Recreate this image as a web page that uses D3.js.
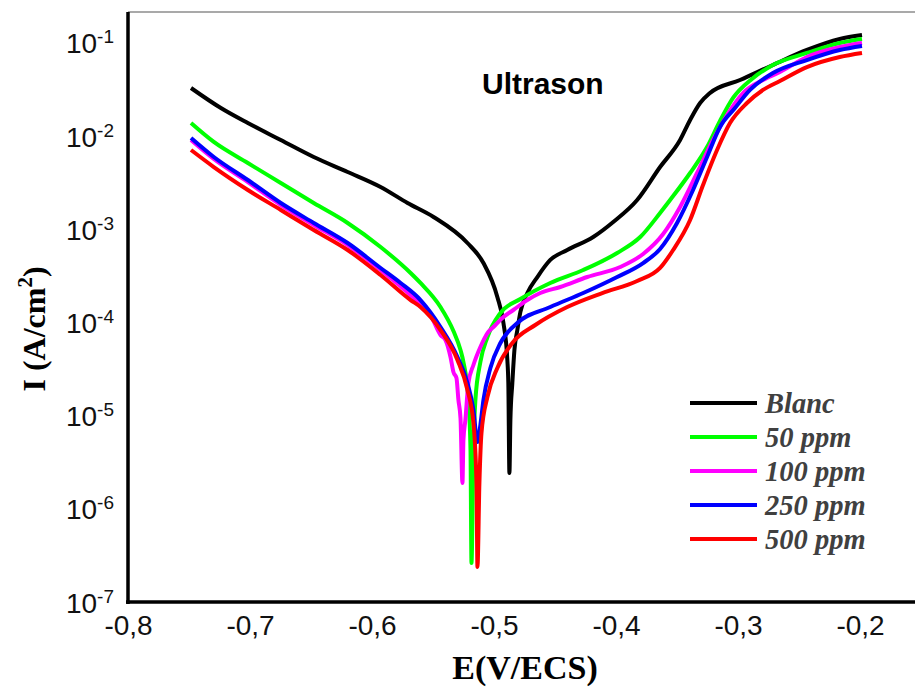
<!DOCTYPE html>
<html>
<head>
<meta charset="utf-8">
<script src="https://cdn.jsdelivr.net/npm/d3@7/dist/d3.min.js"></script>
<style>
  html, body { margin: 0; padding: 0; background: #fff; }
  svg { display: block; }
</style>
</head>
<body>
<div id="chart"></div>
<script>
// ---------------- DATA ----------------
const seriesNames = ["Blanc", "50 ppm", "100 ppm", "250 ppm", "500 ppm"];
const seriesColors = ["#000000", "#00ff00", "#ff00ff", "#0000ff", "#ff0000"];

// Potential E (V/ECS) and log10 of current density I (A/cm²)
const blancE = [-0.75, -0.7255, -0.7034, -0.6764, -0.6494, -0.6216, -0.5946, -0.5725, -0.5512, -0.5234, -0.5103, -0.4989, -0.4939, -0.4907, -0.4899, -0.4890, -0.4882, -0.4866, -0.4849, -0.4825, -0.48, -0.4743, -0.4661, -0.4555, -0.4416, -0.4203, -0.4039, -0.3843, -0.3655, -0.3491, -0.3409, -0.3327, -0.3246, -0.30, -0.273, -0.2452, -0.2182, -0.20];
const blancLogI = [-1.485, -1.700, -1.861, -2.043, -2.225, -2.386, -2.547, -2.719, -2.869, -3.148, -3.363, -3.727, -4.006, -4.403, -4.650, -5.616, -5.047, -4.650, -4.296, -4.082, -3.888, -3.685, -3.513, -3.330, -3.223, -3.084, -2.923, -2.687, -2.333, -2.043, -1.828, -1.646, -1.539, -1.399, -1.238, -1.077, -0.959, -0.916];

const ppm50E = [-0.75, -0.7313, -0.7034, -0.6764, -0.6494, -0.6216, -0.5946, -0.5700, -0.5619, -0.5455, -0.5349, -0.5291, -0.5267, -0.5226, -0.5209, -0.5201, -0.5185, -0.5169, -0.5128, -0.5070, -0.4964, -0.48, -0.4555, -0.4285, -0.4007, -0.3818, -0.3655, -0.3573, -0.3409, -0.3270, -0.3164, -0.3057, -0.2902, -0.2730, -0.2452, -0.2182, -0.20];
const ppm50LogI = [-1.861, -2.064, -2.290, -2.504, -2.719, -2.933, -3.191, -3.470, -3.577, -3.835, -4.092, -4.296, -4.425, -4.833, -5.369, -6.582, -5.369, -4.833, -4.425, -4.157, -3.899, -3.749, -3.577, -3.438, -3.255, -3.084, -2.826, -2.687, -2.397, -2.118, -1.839, -1.592, -1.388, -1.238, -1.109, -1.002, -0.959];

const ppm100E = [-0.75, -0.7313, -0.7034, -0.6764, -0.6494, -0.6216, -0.5946, -0.5676, -0.5537, -0.5455, -0.5414, -0.5373, -0.5349, -0.5324, -0.5308, -0.5291, -0.5275, -0.5267, -0.5251, -0.5226, -0.5185, -0.5128, -0.5070, -0.5021, -0.4939, -0.4858, -0.4743, -0.4637, -0.4473, -0.4252, -0.3982, -0.3794, -0.3630, -0.3491, -0.3352, -0.3221, -0.3106, -0.2975, -0.2812, -0.2673, -0.2452, -0.2182, -0.20];
const ppm100LogI = [-2.043, -2.247, -2.494, -2.740, -2.955, -3.170, -3.438, -3.738, -3.921, -4.135, -4.189, -4.371, -4.532, -4.597, -4.833, -5.026, -5.723, -5.262, -5.047, -4.650, -4.457, -4.264, -4.114, -4.049, -3.942, -3.867, -3.760, -3.685, -3.620, -3.513, -3.406, -3.266, -3.052, -2.762, -2.397, -2.043, -1.775, -1.539, -1.399, -1.313, -1.152, -1.045, -1.002];

const ppm250E = [-0.75, -0.7313, -0.7034, -0.6764, -0.6494, -0.6216, -0.5946, -0.5782, -0.5619, -0.5455, -0.5316, -0.5234, -0.5185, -0.5152, -0.5128, -0.5103, -0.5046, -0.4964, -0.4825, -0.4555, -0.4285, -0.4007, -0.3794, -0.3655, -0.3516, -0.3385, -0.3270, -0.3164, -0.3041, -0.2918, -0.2730, -0.2452, -0.2182, -0.20];
const ppm250LogI = [-2.021, -2.225, -2.472, -2.719, -2.933, -3.148, -3.416, -3.577, -3.760, -4.049, -4.371, -4.650, -4.940, -5.283, -5.101, -4.833, -4.489, -4.221, -4.006, -3.835, -3.685, -3.513, -3.363, -3.212, -2.933, -2.579, -2.225, -1.903, -1.700, -1.506, -1.324, -1.185, -1.077, -1.034];

const ppm500E = [-0.75, -0.7313, -0.7034, -0.6764, -0.6494, -0.6216, -0.5946, -0.5700, -0.5619, -0.5455, -0.5316, -0.5234, -0.5185, -0.5160, -0.5152, -0.5136, -0.5119, -0.5070, -0.4989, -0.4866, -0.4678, -0.4416, -0.4129, -0.3843, -0.3655, -0.3548, -0.3409, -0.3303, -0.3188, -0.3082, -0.2943, -0.2812, -0.2673, -0.2452, -0.2182, -0.20];
const ppm500LogI = [-2.150, -2.333, -2.579, -2.794, -3.009, -3.223, -3.491, -3.760, -3.835, -4.082, -4.403, -4.725, -5.079, -5.723, -6.624, -5.723, -5.187, -4.800, -4.489, -4.221, -4.028, -3.835, -3.685, -3.556, -3.416, -3.223, -2.901, -2.526, -2.150, -1.861, -1.646, -1.506, -1.410, -1.260, -1.152, -1.109];

const xTicks = [-0.8, -0.7, -0.6, -0.5, -0.4, -0.3, -0.2];
const yTickExponents = [-7, -6, -5, -4, -3, -2, -1];

const titleText = "Ultrason";
const xTitle = "E(V/ECS)";

// ---------------- CHART ----------------
const W = 915, H = 693;
const svg = d3.select("#chart").append("svg")
  .attr("width", W).attr("height", H)
  .attr("viewBox", `0 0 ${W} ${H}`);

const x = d3.scaleLinear().domain([-0.8, -0.15]).range([130, 130 + 0.65 * 1220]);
const y = d3.scaleLog().domain([1e-7, Math.pow(10, -0.6695)]).range([602, 12]);

const sansFont = "'Liberation Sans', Arial, sans-serif";
const serifFont = "'Liberation Serif', 'Times New Roman', serif";

// top border (thin)
svg.append("line")
  .attr("x1", 128).attr("x2", W)
  .attr("y1", y.range()[1]).attr("y2", y.range()[1])
  .attr("stroke", "#555").attr("stroke-width", 1.2);

// Axes
const xAxis = d3.axisBottom(x).tickValues(xTicks).tickSize(0).tickPadding(13)
  .tickFormat(d => d.toFixed(1).replace(".", ","));
const gx = svg.append("g").attr("transform", "translate(-2,602)").call(xAxis);
gx.select(".domain").attr("stroke", "#000").attr("stroke-width", 3.5).attr("d", `M128,0H${W + 2}`);
gx.selectAll("text").attr("font-family", sansFont).attr("font-size", 28).attr("fill", "#111");

const yAxis = d3.axisLeft(y).tickValues(yTickExponents.map(e => Math.pow(10, e))).tickSize(0).tickPadding(14)
  .tickFormat(() => "");
const gy = svg.append("g").attr("transform", "translate(128,0)").call(yAxis);
gy.select(".domain").attr("stroke", "#000").attr("stroke-width", 3.5).attr("d", `M0,${y.range()[1]}V604`);
gy.selectAll(".tick text").each(function(d) {
  const t = d3.select(this);
  const e = Math.round(Math.log10(d));
  t.attr("font-family", sansFont).attr("font-size", 28).attr("fill", "#111")
   .attr("dy", null).attr("y", 10).attr("x", -14);
  t.append("tspan").text("10");
  t.append("tspan").attr("font-size", 19).attr("dy", -10).text(String(e));
});

// Curves
const seriesE = [blancE, ppm50E, ppm100E, ppm250E, ppm500E];
const seriesLogI = [blancLogI, ppm50LogI, ppm100LogI, ppm250LogI, ppm500LogI];
const line = d3.line()
  .x(d => x(d[0]))
  .y(d => y(Math.pow(10, d[1])))
  .curve(d3.curveMonotoneX);

seriesNames.forEach((name, i) => {
  const pts = seriesE[i].map((e, j) => [e, seriesLogI[i][j]]);
  svg.append("path")
    .datum(pts)
    .attr("d", line)
    .attr("fill", "none")
    .attr("stroke", seriesColors[i])
    .attr("stroke-width", 4)
    .attr("stroke-linejoin", "round")
    .attr("stroke-linecap", "butt");
});

// Title
svg.append("text")
  .attr("x", 482).attr("y", 94)
  .attr("font-family", sansFont).attr("font-weight", "bold").attr("font-size", 30)
  .attr("fill", "#000").text(titleText);

// Legend
const legend = svg.append("g");
seriesNames.forEach((name, i) => {
  const ly = 403 + 34 * i;
  legend.append("line")
    .attr("x1", 690).attr("x2", 757).attr("y1", ly).attr("y2", ly)
    .attr("stroke", seriesColors[i]).attr("stroke-width", 4);
  legend.append("text")
    .attr("x", 765).attr("y", ly + 10)
    .attr("font-family", serifFont).attr("font-weight", "bold").attr("font-style", "italic")
    .attr("font-size", 28.5).attr("fill", "#404040").text(name);
});

// Axis titles
svg.append("text")
  .attr("x", 525).attr("y", 679)
  .attr("text-anchor", "middle")
  .attr("font-family", serifFont).attr("font-weight", "bold").attr("font-size", 34)
  .attr("fill", "#000").text(xTitle);

const yt = svg.append("text")
  .attr("transform", "translate(45,329) rotate(-90)")
  .attr("text-anchor", "middle")
  .attr("font-family", serifFont).attr("font-weight", "bold").attr("font-size", 32)
  .attr("fill", "#000");
yt.append("tspan").text("I (A/cm");
yt.append("tspan").attr("font-size", 21).attr("dy", -13).text("2");
yt.append("tspan").attr("dy", 13).text(")");
</script>
</body>
</html>
